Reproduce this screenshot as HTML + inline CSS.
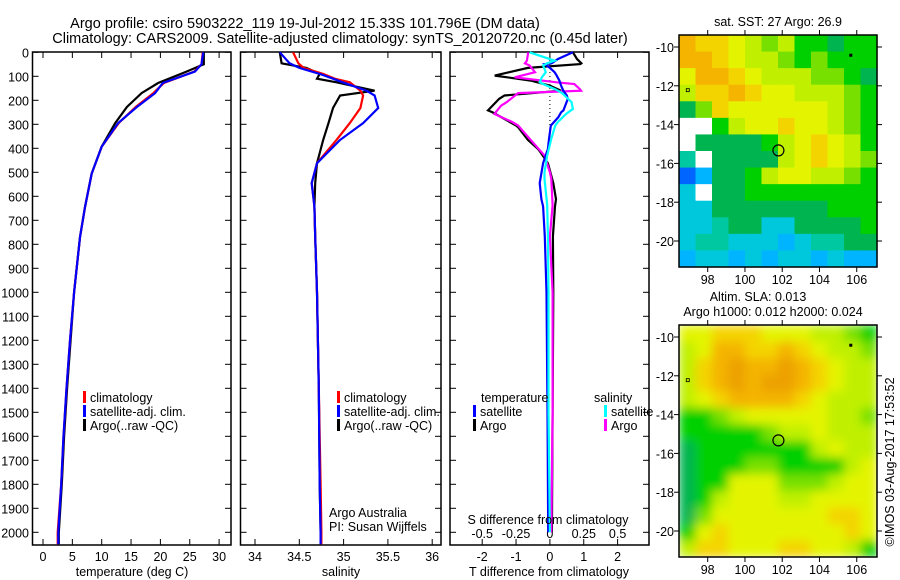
<!DOCTYPE html>
<html><head><meta charset="utf-8"><style>
body{margin:0;background:#fff;}
svg{display:block;font-family:"Liberation Sans",sans-serif;}
text{font-size:12.5px;fill:#000;}
</style></head><body>
<svg id="c" width="900" height="580" viewBox="0 0 900 580" xmlns="http://www.w3.org/2000/svg">
<text x="305" y="28" text-anchor="middle" style="font-size:14.5px">Argo profile: csiro 5903222_119 19-Jul-2012 15.33S 101.796E (DM data)</text>
<text x="340" y="43" text-anchor="middle" style="font-size:14.5px">Climatology: CARS2009. Satellite-adjusted climatology: synTS_20120720.nc (0.45d later)</text>
<text x="778" y="26" text-anchor="middle">sat. SST: 27 Argo: 26.9</text>
<text x="758" y="301" text-anchor="middle">Altim. SLA: 0.013</text>
<text x="773" y="316" text-anchor="middle">Argo h1000: 0.012 h2000: 0.024</text>
<text transform="translate(894,462) rotate(-90)" text-anchor="middle">©IMOS 03-Aug-2017 17:53:52</text>
<g id="g"></g>
</svg>
<script>
// ---- data ----
const depthTemp = [0,50,80,128,170,228,295,393,505,645,770,1000,1200,1400,1600,1800,2000,2050];
const tempClim  = [27.2,27,25.8,20.6,18.8,15.8,12.9,10,8.3,7.15,6.3,5.3,4.6,4.0,3.5,3.1,2.5,2.5];
const tempSat   = [27.3,27,25.9,20.4,19.1,16.0,12.8,10,8.3,7.15,6.3,5.3,4.6,4.0,3.5,3.1,2.6,2.6];
const tempArgo  = [27.4,27.4,24.5,19.6,16.8,14.3,12.3,10,8.3,7.15,6.3,5.3,4.7,4.1,3.6,3.2,2.7,2.7];
const depthSal = [0,46,65,90,110,125,160,180,232,295,365,462,545,642,767,1000,1400,1800,2000,2050];
const salClim  = [34.43,34.49,34.55,34.77,34.9,35.07,35.19,35.22,35.19,35.07,34.92,34.70,34.64,34.67,34.68,34.70,34.72,34.74,34.75,34.75];
const salSat   = [34.28,34.39,34.5,34.73,34.88,34.99,35.26,35.35,35.39,35.22,34.96,34.70,34.64,34.67,34.68,34.70,34.72,34.73,34.74,34.74];
const salArgo  = [34.28,34.30,34.58,34.73,34.70,34.92,35.35,34.96,34.88,34.83,34.77,34.70,34.68,34.67,34.68,34.70,34.72,34.73,34.74,34.74];
const depthDT = [0,28,46,49,65,83,97,118,139,160,180,194,242,250,270,305,312,365,403,420,462,545,612,642,767,1000,1500,2000];
const dtArgo  = [0.68,0.8,0.93,0.9,-0.65,-1.2,-1.63,-0.56,0,0.33,-1.34,-1.5,-1.83,-1.7,-1.44,-1.0,-0.94,-0.65,-0.35,-0.26,-0.06,0.1,0.18,0.15,0.09,0.1,0.08,0.06];
const dtSat   = [0.68,0.24,0.05,-0.15,0,0.14,0.2,0.28,0.33,0.4,0.5,0.53,0.4,0.33,0.25,0.03,0.02,-0.03,-0.06,-0.1,-0.2,-0.3,-0.25,-0.2,-0.15,-0.1,-0.07,-0.05];
const depthDS = [0,35,46,55,83,104,125,132,153,160,170,208,222,236,257,290,305,360,430,500,527,637,767,1000,1500,2000];
const dsArgo  = [-0.16,-0.17,-0.185,-0.15,-0.11,-0.26,0.05,0.18,0.22,0.23,-0.235,-0.32,-0.36,-0.38,-0.41,-0.28,-0.235,-0.15,-0.04,0,0.01,0.02,0,0.02,0.02,0.01];
const dsSat   = [-0.15,0.035,-0.02,-0.05,-0.03,-0.06,-0.075,-0.05,0.035,0.06,0.09,0.16,0.165,0.17,0.12,0.06,0.04,0.01,-0.02,-0.04,-0.04,-0.02,-0.015,-0.01,-0.01,0];
const depthTicks = [0,100,200,300,400,500,600,700,800,900,1000,1100,1200,1300,1400,1500,1600,1700,1800,1900,2000];
const tempTicks = [0,5,10,15,20,25,30];
const salTicks = [34,34.5,35,35.5,36];
const salTickLabels = ['34','34.5','35','35.5','36'];
const dtTicks = [-2,-1,0,1,2];
const dsTicks = [-0.5,-0.25,0,0.25,0.5];
const dsTickLabels = ['-0.5','-0.25','0','0.25','0.5'];
const lonTicks = [98,100,102,104,106];
const latTicks = [-10,-12,-14,-16,-18,-20];
const sstGrid = [
'baa987866566','bba988767666','9bba98887765','8aaba9988876',
'57a999999876','006899a99876','05555689a986','40555589a987',
'125568998876','305566666666','335555555666','334553355556',
'344333234455','233232332322'];
const slaGrid = [
'99aaa9998876','89bbaaba9887','8abcbbcba988','8abcbccba988',
'89abbbba9888','667899999887','666667889888','566666668988',
'566677666689','566999777899','568999889999','579999999aa9',
'69a9999999a9','8aa999aa9986'];
const argoLon = 101.796, argoLat = -15.33;
// ---- drawing ----
const NS='http://www.w3.org/2000/svg';
const G=document.getElementById('g');
function el(tag,attrs,parent){const e=document.createElementNS(NS,tag);for(const k in attrs)e.setAttribute(k,attrs[k]);(parent||G).appendChild(e);return e;}
function txt(x,y,s,anchor,parent){const t=el('text',{x:x,y:y,'text-anchor':anchor||'start'},parent);t.textContent=s;return t;}
const yD = d => 52.3 + d*0.24;
const PY0=52, PY1=545;
const panels=[
 {name:'temperature-panel',x0:32.5,x1:231,sx:v=>43+5.87*v},
 {name:'salinity-panel',x0:240.5,x1:441,sx:v=>255+88.6*(v-34)},
 {name:'difference-panel',x0:450,x1:649,sx:v=>549.9+33.85*v}
];
panels.forEach((p,i)=>{
  const g=el('g',{});
  
  
  p.g=g;
  const r=el('rect',{x:p.x0,y:PY0,width:p.x1-p.x0,height:PY1-PY0,fill:'none',stroke:'#000','stroke-width':1.5},g);
  
  
  depthTicks.forEach(d=>{
    el('line',{x1:p.x0,x2:p.x0+6,y1:yD(d),y2:yD(d),stroke:'#000'},g);
    el('line',{x1:p.x1-6,x2:p.x1,y1:yD(d),y2:yD(d),stroke:'#000'},g);
  });
});
depthTicks.forEach(d=>{const t=txt(29,yD(d)+5,String(d),'end');
  
  });
function xticks(p,ticks,labels,fn,ly){
  ticks.forEach((v,i)=>{const x=fn(v);
    el('line',{x1:x,x2:x,y1:PY0,y2:PY0+6,stroke:'#000'},p.g);
    el('line',{x1:x,x2:x,y1:PY1-6,y2:PY1,stroke:'#000'},p.g);
    const t=txt(x,ly,labels[i],'middle',p.g);
    
    });
}
xticks(panels[0],tempTicks,tempTicks.map(String),panels[0].sx,561);
xticks(panels[1],salTicks,salTickLabels,panels[1].sx,561);
xticks(panels[2],dtTicks,dtTicks.map(String),panels[2].sx,561);
dsTicks.forEach((v,i)=>{const t=txt(panels[2].sx(v*4),538,dsTickLabels[i],'middle',panels[2].g);
  
  });
[[132,'temperature (deg C)','temperature-axis-title'],[341,'salinity','salinity-axis-title'],[549,'T difference from climatology','t-diff-axis-title']].forEach(a=>{
  const t=txt(a[0],576,a[1],'middle');  });
const st=txt(548,524,'S difference from climatology','middle');


const zl=el('line',{x1:549.9,x2:549.9,y1:PY0,y2:yD(400),stroke:'#000','stroke-dasharray':'1,3'},panels[2].g);


function profile(p,depths,vals,fn,color,name){
  const pts=depths.map((d,i)=>fn(vals[i]).toFixed(1)+','+yD(d).toFixed(1)).join(' ');
  const l=el('polyline',{points:pts,fill:'none',stroke:color,'stroke-width':2.2},p.g);
  
  
}
const P1=panels[0],P2=panels[1],P3=panels[2];
profile(P1,depthTemp,tempArgo,P1.sx,'#000','temp-argo-line');
profile(P1,depthTemp,tempClim,P1.sx,'#f00','temp-climatology-line');
profile(P1,depthTemp,tempSat,P1.sx,'#00f','temp-satellite-line');
profile(P2,depthSal,salArgo,P2.sx,'#000','sal-argo-line');
profile(P2,depthSal,salClim,P2.sx,'#f00','sal-climatology-line');
profile(P2,depthSal,salSat,P2.sx,'#00f','sal-satellite-line');
profile(P3,depthDT,dtArgo,P3.sx,'#000','tdiff-argo-line');
profile(P3,depthDS,dsArgo,v=>P3.sx(v*4),'#f0f','sdiff-argo-line');
profile(P3,depthDT,dtSat,P3.sx,'#00f','tdiff-satellite-line');
profile(P3,depthDS,dsSat,v=>P3.sx(v*4),'#0ff','sdiff-satellite-line');
function legend(items,name){
  const g=el('g',{});
  
  
  items.forEach(it=>{
    if(it[3]) el('rect',{x:it[0],y:it[1]-11,width:3,height:12,fill:it[3]},g);
    txt(it[0]+(it[3]?7:0),it[1],it[2],'start',g);
  });
}
legend([[83,402,'climatology','#f00'],[83,416,'satellite-adj. clim.','#00f'],[83,430,'Argo(..raw -QC)','#000']],'temp-legend');
legend([[337,402,'climatology','#f00'],[337,416,'satellite-adj. clim.','#00f'],[337,430,'Argo(..raw -QC)','#000']],'sal-legend');
legend([[481,402,'temperature',null],[594,402,'salinity',null],[473,416,'satellite','#00f'],[604,416,'satellite','#0ff'],[473,430,'Argo','#000'],[604,430,'Argo','#f0f']],'diff-legend');
legend([[329,517,'Argo Australia',null],[329,531,'PI: Susan Wijffels',null]],'pi-credit');
const palette={'0':'#ffffff','1':'#0064ff','2':'#00b4ff','3':'#00c8dc','4':'#00c8a0','5':'#00b450','6':'#00d000','7':'#78e000','8':'#c0f000','9':'#e4f400','a':'#f4d400','b':'#f4b400','c':'#eca000'};
const MX0=679,MX1=877;
const lonX=lon=>707.7+(lon-98)*18.63;
function drawMap(grid,y0,y1,latY,name,blur){
  const g=el('g',{});
  
  
  if(blur){const cp=el('clipPath',{id:'cl'+name},g);el('rect',{x:MX0,y:y0,width:MX1-MX0,height:y1-y0},cp);}
  const outer=el('g',blur?{'clip-path':'url(#cl'+name+')'}:{},g);
  const cg=el('g',blur?{filter:'url(#bl)'}:{},outer);
  const rows=grid.length;
  grid.forEach((row,r)=>{const cols=row.length,cw=(MX1-MX0)/cols,ch=(y1-y0)/rows;
    [...row].forEach((c,k)=>{
    const cell=el('rect',{x:MX0+k*cw,y:y0+r*ch,width:cw+0.6,height:ch+0.6,fill:palette[c]},cg);
    
    
  });});
  el('rect',{x:MX0,y:y0,width:MX1-MX0,height:y1-y0,fill:'none',stroke:'#000','stroke-width':1.5},g);
  lonTicks.forEach(l=>{const x=lonX(l);
    el('line',{x1:x,x2:x,y1:y0-5,y2:y0,stroke:'#000'},g);
    el('line',{x1:x,x2:x,y1:y1,y2:y1+5,stroke:'#000'},g);
    txt(x,y1+17,String(l),'middle',g);});
  latTicks.forEach(l=>{const y=latY(l);
    el('line',{x1:MX0-5,x2:MX0,y1:y,y2:y,stroke:'#000'},g);
    el('line',{x1:MX1,x2:MX1+5,y1:y,y2:y,stroke:'#000'},g);
    txt(674,y+5,String(l),'end',g);});
  el('rect',{x:lonX(105.6),y:latY(-10.45)-2,width:3,height:3,fill:'#000'},g);
  el('rect',{x:lonX(96.85),y:latY(-12.2)-1,width:3,height:3,fill:'none',stroke:'#000','stroke-width':0.8},g);
  const c=el('circle',{cx:lonX(argoLon),cy:latY(argoLat),r:5.5,fill:'none',stroke:'#000','stroke-width':1.2},g);
  
  
}
const defs=el('defs',{});
const f=el('filter',{id:'bl',x:'-10%',y:'-10%',width:'120%',height:'120%'},defs);
el('feGaussianBlur',{stdDeviation:5},f);
drawMap(sstGrid,35,267,lat=>47+(-10-lat)*19.4,'sst-map',false);
drawMap(slaGrid,325,557,lat=>337+(-10-lat)*19.4,'sla-map',true);
</script>
</body></html>
